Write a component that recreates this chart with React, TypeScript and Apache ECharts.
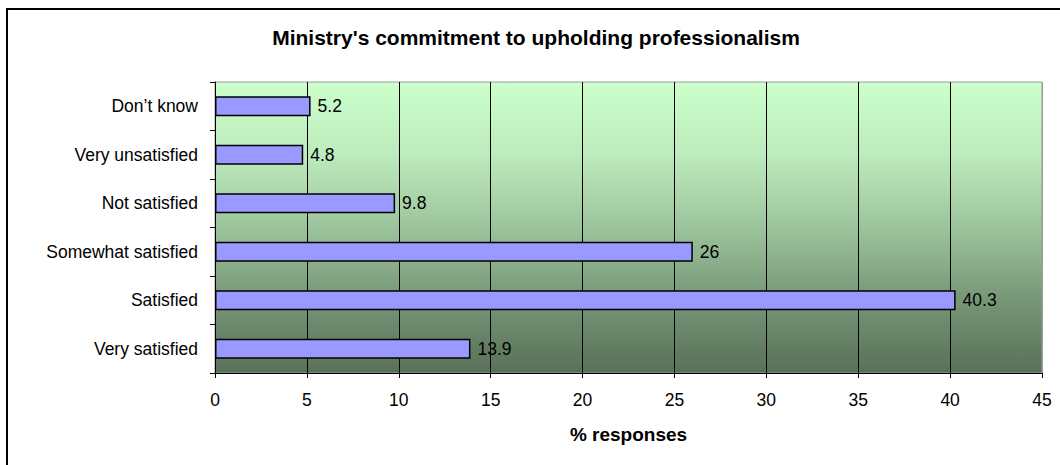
import React, { useEffect, useRef } from "react";
import * as echarts from "echarts";

const chartTitle = "Ministry's commitment to upholding professionalism";
const categories = [
  "Don’t know",
  "Very unsatisfied",
  "Not satisfied",
  "Somewhat satisfied",
  "Satisfied",
  "Very satisfied",
];
const responses = [5.2, 4.8, 9.8, 26, 40.3, 13.9];
const xAxisName = "% responses";
const xMin = 0;
const xMax = 45;
const xStep = 5;

const FONT = '"Liberation Sans", Arial, sans-serif';

export default function App() {
  const ref = useRef<HTMLDivElement>(null);
  useEffect(() => {
    if (!ref.current) return;
    const chart = echarts.init(ref.current, null, { renderer: "svg" });
    const nLines = Math.round((xMax - xMin) / xStep) + 1;
    const splitColors = Array.from({ length: nLines }, (_, i) =>
      i === nLines - 1 ? "#9a9a9a" : "#000000"
    );
    chart.setOption({
      animation: false,
      backgroundColor: "#ffffff",
      textStyle: { fontFamily: FONT },
      graphic: [
        {
          type: "rect",
          silent: true,
          z: -10,
          shape: { x: 7, y: 9, width: 1100, height: 600 },
          style: { fill: "none", stroke: "#000", lineWidth: 2 },
        },
        {
          type: "text",
          silent: true,
          x: 536,
          y: 37,
          style: {
            text: chartTitle,
            fontFamily: FONT,
            fontSize: 21,
            fontWeight: "bold",
            fill: "#000",
            align: "center",
            verticalAlign: "middle",
          },
        },
      ],
      grid: {
        left: 215,
        right: 18,
        top: 82,
        bottom: 92,
        show: true,
        borderColor: "#9a9a9a",
        borderWidth: 1,
        backgroundColor: {
          type: "linear",
          x: 0,
          y: 0,
          x2: 0,
          y2: 1,
          colorStops: [
            { offset: 0, color: "#CCFFCC" },
            { offset: 0.25, color: "#BDEBBD" },
            { offset: 0.5, color: "#9CC49C" },
            { offset: 0.75, color: "#779677" },
            { offset: 1, color: "#587058" },
          ],
        },
      },
      xAxis: {
        type: "value",
        min: xMin,
        max: xMax,
        interval: xStep,
        name: xAxisName,
        nameLocation: "middle",
        nameGap: 52,
        nameTextStyle: {
          fontFamily: FONT,
          fontSize: 19,
          fontWeight: "bold",
          color: "#000",
        },
        axisLine: { show: true, lineStyle: { color: "#000", width: 1 } },
        axisTick: { show: true, length: 5, lineStyle: { color: "#000" } },
        axisLabel: { fontFamily: FONT, fontSize: 17.5, color: "#000", margin: 18 },
        splitLine: { show: true, lineStyle: { color: splitColors, width: 1 } },
      },
      yAxis: {
        type: "category",
        inverse: true,
        data: categories,
        axisLine: { show: true, lineStyle: { color: "#000", width: 1 } },
        axisTick: { show: true, length: 5, lineStyle: { color: "#000" } },
        axisLabel: { fontFamily: FONT, fontSize: 17.5, color: "#000", margin: 17 },
        splitLine: { show: false },
      },
      series: [
        {
          type: "bar",
          data: responses,
          barWidth: 20,
          itemStyle: { color: "#9999FF", borderColor: "#000", borderWidth: 1.5 },
          label: {
            show: true,
            position: "right",
            distance: 7,
            fontFamily: FONT,
            fontSize: 17.5,
            color: "#000",
          },
        },
      ],
    });
    return () => chart.dispose();
  }, []);
  return (
    <div
      ref={ref}
      style={{ position: "fixed", left: 0, top: 0, width: 1060, height: 465 }}
    />
  );
}
